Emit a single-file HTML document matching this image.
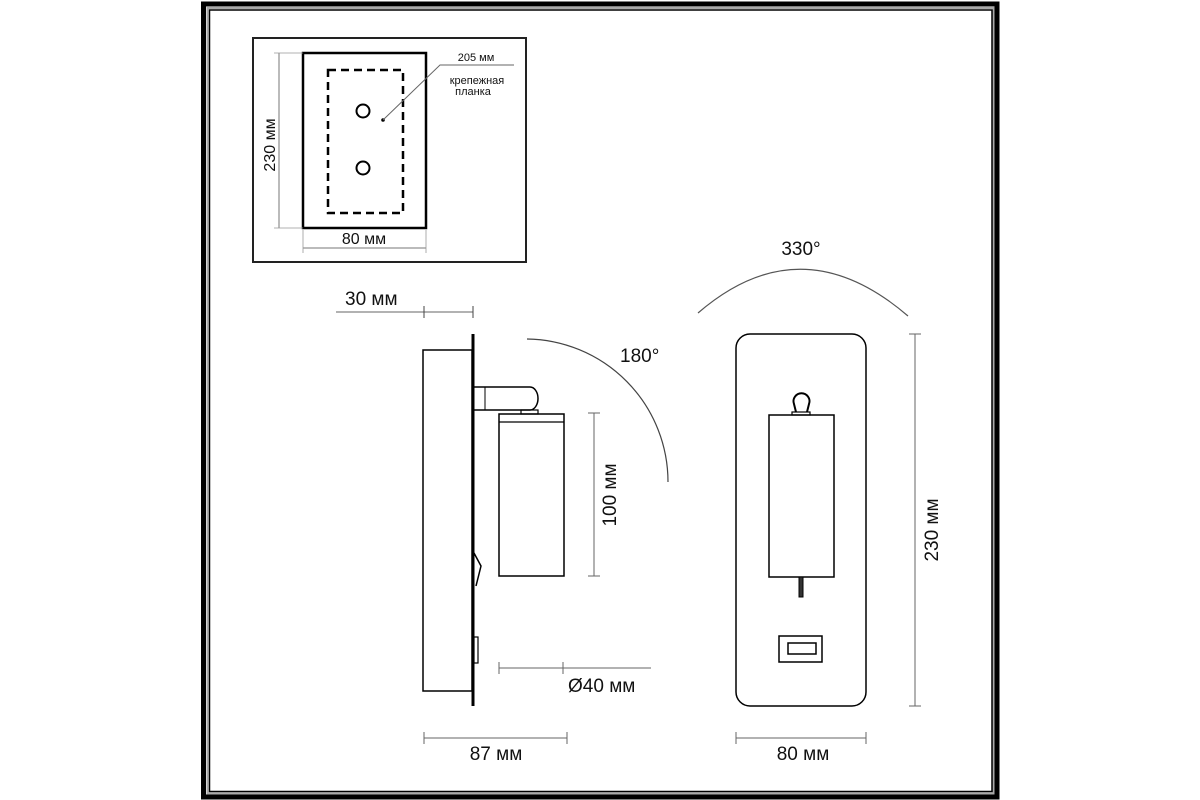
<!DOCTYPE html>
<html><head><meta charset="utf-8"><style>
html,body{margin:0;padding:0;background:#fff;}
svg{display:block;}
text{font-family:"Liberation Sans","DejaVu Sans",sans-serif;fill:#111;}
</style></head><body>
<svg width="1200" height="800" viewBox="0 0 1200 800" xmlns="http://www.w3.org/2000/svg">
<rect x="203.5" y="4" width="793.5" height="793" fill="none" stroke="#000" stroke-width="5"/>
<rect x="207.5" y="8" width="786" height="785.5" fill="none" stroke="#aaa" stroke-width="2"/>
<rect x="209.5" y="10" width="782.5" height="781.5" fill="none" stroke="#000" stroke-width="1.5"/>

<rect x="253" y="38" width="273" height="224" fill="none" stroke="#222" stroke-width="2"/>
<rect x="303" y="53" width="123" height="175" fill="none" stroke="#000" stroke-width="2.5"/>
<rect x="328" y="70" width="75" height="143" fill="none" stroke="#000" stroke-width="2.5" stroke-dasharray="8,5"/>
<circle cx="363" cy="111" r="6.5" fill="none" stroke="#000" stroke-width="2"/>
<circle cx="363" cy="168" r="6.5" fill="none" stroke="#000" stroke-width="2"/>
<circle cx="383" cy="120" r="1.8" fill="#000"/>
<polyline points="383,120 440,65 514,65" fill="none" stroke="#666" stroke-width="1"/>
<text x="476" y="61" font-size="11" text-anchor="middle">205 мм</text>
<text x="477" y="84" font-size="11" text-anchor="middle">крепежная</text>
<text x="473" y="95" font-size="11" text-anchor="middle">планка</text>
<line x1="279" y1="53" x2="279" y2="228" stroke="#777" stroke-width="1"/>
<line x1="274" y1="53" x2="303" y2="53" stroke="#999" stroke-width="0.8"/>
<line x1="274" y1="228" x2="303" y2="228" stroke="#999" stroke-width="0.8"/>
<text transform="translate(275,145) rotate(-90)" font-size="16" text-anchor="middle">230 мм</text>
<line x1="303" y1="248" x2="426" y2="248" stroke="#777" stroke-width="1"/>
<line x1="303" y1="230" x2="303" y2="253" stroke="#999" stroke-width="0.8"/>
<line x1="426" y1="230" x2="426" y2="253" stroke="#999" stroke-width="0.8"/>
<text x="364" y="244" font-size="16" text-anchor="middle">80 мм</text>

<line x1="336" y1="312" x2="473" y2="312" stroke="#666" stroke-width="1"/>
<line x1="424" y1="306" x2="424" y2="318" stroke="#444" stroke-width="1"/>
<line x1="473" y1="306" x2="473" y2="318" stroke="#444" stroke-width="1"/>
<text x="345" y="305" font-size="19">30 мм</text>
<line x1="473" y1="334" x2="473" y2="706" stroke="#000" stroke-width="3"/>
<rect x="423" y="350" width="49" height="341" fill="none" stroke="#000" stroke-width="1.5"/>
<path d="M474,387 H530 A8,11.5 0 0 1 530,410 H474" fill="none" stroke="#000" stroke-width="1.5"/>
<line x1="485" y1="387" x2="485" y2="410" stroke="#000" stroke-width="1"/>
<rect x="521" y="410" width="17" height="4" fill="none" stroke="#000" stroke-width="1.2"/>
<rect x="499" y="414" width="65" height="162" fill="none" stroke="#000" stroke-width="1.5"/>
<line x1="499" y1="422" x2="564" y2="422" stroke="#000" stroke-width="1.2"/>
<path d="M474,553 L481,566 L476,586" fill="none" stroke="#000" stroke-width="1.5"/>
<rect x="474" y="637" width="4" height="26" fill="none" stroke="#000" stroke-width="1.2"/>
<line x1="594" y1="413" x2="594" y2="576" stroke="#666" stroke-width="1"/>
<line x1="588" y1="413" x2="600" y2="413" stroke="#666" stroke-width="1"/>
<line x1="588" y1="576" x2="600" y2="576" stroke="#666" stroke-width="1"/>
<text transform="translate(616,495) rotate(-90)" font-size="19" text-anchor="middle">100 мм</text>
<path d="M527,339 A143,143 0 0 1 668,482" fill="none" stroke="#444" stroke-width="1.2"/>
<text x="620" y="362" font-size="19">180°</text>
<line x1="499" y1="668" x2="651" y2="668" stroke="#666" stroke-width="1"/>
<line x1="499" y1="662" x2="499" y2="674" stroke="#666" stroke-width="1"/>
<line x1="563" y1="662" x2="563" y2="674" stroke="#666" stroke-width="1"/>
<text x="568" y="692" font-size="19">Ø40 мм</text>
<line x1="424" y1="738" x2="567" y2="738" stroke="#666" stroke-width="1"/>
<line x1="424" y1="732" x2="424" y2="744" stroke="#666" stroke-width="1"/>
<line x1="567" y1="732" x2="567" y2="744" stroke="#666" stroke-width="1"/>
<text x="496" y="760" font-size="19" text-anchor="middle">87 мм</text>

<path d="M698,313 Q801,224 908,316" fill="none" stroke="#555" stroke-width="1.2"/>
<text x="801" y="255" font-size="19" text-anchor="middle">330°</text>
<rect x="736" y="334" width="130" height="372" rx="14" fill="none" stroke="#000" stroke-width="1.5"/>
<path d="M796,412 L794,404 A8,8 0 1 1 809,404 L807,412" fill="none" stroke="#000" stroke-width="2"/>
<rect x="792" y="412" width="18" height="3" fill="none" stroke="#000" stroke-width="1.2"/>
<rect x="769" y="415" width="65" height="162" fill="none" stroke="#000" stroke-width="1.5"/>
<rect x="799" y="577" width="4" height="20" fill="#333" stroke="#000" stroke-width="1"/>
<rect x="779" y="636" width="43" height="26" fill="none" stroke="#000" stroke-width="1.5"/>
<rect x="788" y="643" width="28" height="11" fill="none" stroke="#000" stroke-width="1.5"/>
<line x1="915" y1="334" x2="915" y2="706" stroke="#666" stroke-width="1"/>
<line x1="909" y1="334" x2="921" y2="334" stroke="#666" stroke-width="1"/>
<line x1="909" y1="706" x2="921" y2="706" stroke="#666" stroke-width="1"/>
<text transform="translate(938,530) rotate(-90)" font-size="19" text-anchor="middle">230 мм</text>
<line x1="736" y1="738" x2="866" y2="738" stroke="#666" stroke-width="1"/>
<line x1="736" y1="732" x2="736" y2="744" stroke="#666" stroke-width="1"/>
<line x1="866" y1="732" x2="866" y2="744" stroke="#666" stroke-width="1"/>
<text x="803" y="760" font-size="19" text-anchor="middle">80 мм</text>
</svg>
</body></html>
